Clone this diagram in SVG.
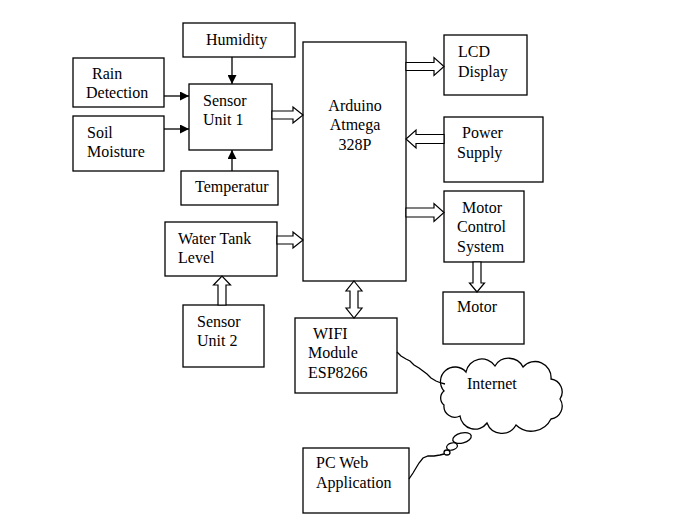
<svg xmlns="http://www.w3.org/2000/svg" width="695" height="528" viewBox="0 0 695 528">
<defs>
<style>
.box{fill:#fff;stroke:#000;stroke-width:1.3}
.t{font-family:"Liberation Serif","Times New Roman",serif;font-size:16px;fill:#000}
.c{text-anchor:middle}
.ln{fill:none;stroke:#000;stroke-width:1.3}
.ha{fill:#fff;stroke:#000;stroke-width:1.2;stroke-linejoin:miter}
</style>
<marker id="ah" viewBox="0 0 10 10" refX="10" refY="5" markerWidth="9" markerHeight="9" markerUnits="userSpaceOnUse" orient="auto">
<path d="M0,0 L10,5 L0,10 z" fill="#000"/>
</marker>
</defs>
<rect width="695" height="528" fill="#fff"/>

<g id="humidity"><rect class="box" x="183" y="23" width="112" height="34"/><text class="t" x="206" y="45">Humidity</text></g>
<g id="rain"><rect class="box" x="73" y="58" width="91" height="49"/><text class="t" x="92" y="79">Rain</text><text class="t" x="86" y="98">Detection</text></g>
<g id="soil"><rect class="box" x="73" y="116" width="91" height="55"/><text class="t" x="87" y="138">Soil</text><text class="t" x="87" y="157">Moisture</text></g>
<g id="sensor1"><rect class="box" x="189" y="84" width="83" height="66"/><text class="t" x="203" y="106">Sensor</text><text class="t" x="203" y="125">Unit 1</text></g>
<g id="temperatur"><rect class="box" x="181" y="171" width="97" height="34"/><text class="t" x="195" y="192">Temperatur</text></g>
<g id="arduino"><rect class="box" x="303" y="42" width="103" height="239"/><text class="t c" x="355" y="111">Arduino</text><text class="t c" x="355" y="130">Atmega</text><text class="t c" x="355" y="150">328P</text></g>
<g id="lcd"><rect class="box" x="444" y="35" width="83" height="60"/><text class="t" x="458" y="57">LCD</text><text class="t" x="458" y="77">Display</text></g>
<g id="power"><rect class="box" x="444" y="117" width="99" height="65"/><text class="t" x="462" y="138">Power</text><text class="t" x="457" y="158">Supply</text></g>
<g id="motorcontrol"><rect class="box" x="444" y="191" width="80" height="71"/><text class="t" x="462" y="213">Motor</text><text class="t" x="457" y="232">Control</text><text class="t" x="457" y="252">System</text></g>
<g id="watertank"><rect class="box" x="165" y="222" width="112" height="54"/><text class="t" x="178" y="244">Water Tank</text><text class="t" x="178" y="263">Level</text></g>
<g id="sensor2"><rect class="box" x="183" y="305" width="81" height="62"/><text class="t" x="197" y="327">Sensor</text><text class="t" x="197" y="346">Unit 2</text></g>
<g id="wifi"><rect class="box" x="295" y="318" width="102" height="75"/><text class="t" x="313" y="339">WIFI</text><text class="t" x="308" y="358">Module</text><text class="t" x="308" y="378">ESP8266</text></g>
<g id="motor"><rect class="box" x="443" y="292" width="81" height="52"/><text class="t" x="457" y="312">Motor</text></g>
<g id="internet">
<path class="ln" d="M444,391 A13 13 0 0 1 466,372 A16 16 0 0 1 495,366 A16 16 0 0 1 523,367 A16 16 0 0 1 551,379 A13 13 0 0 1 560,399 A13 13 0 0 1 551,419 A22 22 0 0 1 516,425 A16 16 0 0 1 487,423 A15 15 0 0 1 460,416 A11 11 0 0 1 444,405 A9 9 0 0 1 444,391 Z" fill="#fff"/>
<ellipse class="ln" cx="462" cy="438" rx="9.5" ry="5" transform="rotate(-15 462 438)"/>
<ellipse class="ln" cx="452" cy="446.5" rx="5.5" ry="3.5" transform="rotate(-15 452 446.5)"/>
<ellipse class="ln" cx="447" cy="452.5" rx="3" ry="2.5"/>
<text class="t" x="467" y="389">Internet</text>
</g>
<g id="pcweb"><rect class="box" x="303" y="448" width="106" height="65"/><text class="t" x="316" y="468">PC Web</text><text class="t" x="316" y="488">Application</text></g>

<g id="connectors">
<line class="ln" x1="232" y1="57" x2="232" y2="84" marker-end="url(#ah)"/>
<line class="ln" x1="164" y1="96" x2="189" y2="96" marker-end="url(#ah)"/>
<line class="ln" x1="164" y1="129" x2="189" y2="129" marker-end="url(#ah)"/>
<line class="ln" x1="232" y1="171" x2="232" y2="150" marker-end="url(#ah)"/>
<path class="ha" d="M272,111 H293 V107 L303,115 L293,123 V119 H272 Z"/>
<path class="ha" d="M277,236 H293 V232 L303,240 L293,248 V244 H277 Z"/>
<path class="ha" d="M406,62.5 H434 V57.5 L444,66.5 L434,75.5 V70.5 H406 Z"/>
<path class="ha" d="M444,134.5 H416 V130 L406,139 L416,148 V143.5 H444 Z"/>
<path class="ha" d="M406,208 H434 V203.5 L444,212.5 L434,221.5 V217 H406 Z"/>
<path class="ha" d="M473,262 V283 H469.5 L477,292 L484.5,283 H481 V262 Z"/>
<path class="ha" d="M218,305 V285 H213.5 L222,276 L230.5,285 H226 V305 Z"/>
<path class="ha" d="M354,281 L362,291 H358 V308 H362 L354,318 L346,308 H350 V291 H346 Z"/>
<polyline class="ln" points="397,352 401,356 406,359 410,361 414,365 419,368 423,371 427,374 431,378 436,381 441,383 445,384"/>
<polyline class="ln" points="409,479 413,473 416,468 419,463 423,458 428,456 434,456 440,455 444,454"/>
</g>
</svg>
